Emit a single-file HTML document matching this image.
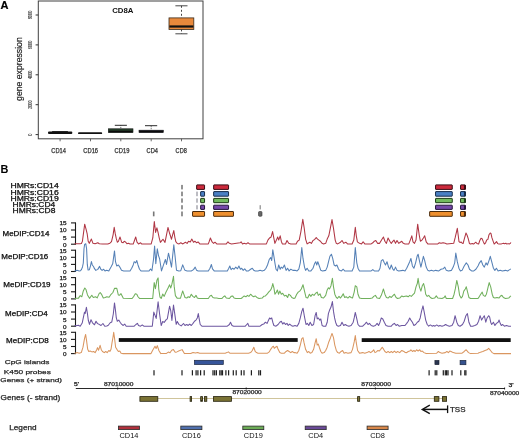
<!DOCTYPE html>
<html><head><meta charset="utf-8"><style>
html,body{margin:0;padding:0;background:#fff;}
body{width:520px;height:439px;overflow:hidden;}
svg{display:block;font-family:"Liberation Sans", sans-serif;will-change:transform;}
</style></head><body>
<svg width="520" height="439" viewBox="0 0 520 439">
<rect x="0" y="0" width="520" height="439" fill="#fff"/>
<text x="0.4" y="9.0" font-size="11" font-weight="bold" fill="#000" stroke="#000" stroke-width="0.2">A</text>
<rect x="38.3" y="1" width="164.7" height="137.8" fill="none" stroke="#404040" stroke-width="1"/>
<line x1="35.6" y1="134.6" x2="38.3" y2="134.6" stroke="#333" stroke-width="1.0" />
<text x="0" y="0" font-size="5.5" text-anchor="middle" fill="#333" stroke="#333" stroke-width="0.1" textLength="2.2" lengthAdjust="spacingAndGlyphs" transform="translate(32.0,134.60) rotate(-90)">0</text>
<line x1="35.6" y1="104.7" x2="38.3" y2="104.7" stroke="#333" stroke-width="1.0" />
<text x="0" y="0" font-size="5.5" text-anchor="middle" fill="#333" stroke="#333" stroke-width="0.1" textLength="8.6" lengthAdjust="spacingAndGlyphs" transform="translate(32.0,104.70) rotate(-90)">2000</text>
<line x1="35.6" y1="74.8" x2="38.3" y2="74.8" stroke="#333" stroke-width="1.0" />
<text x="0" y="0" font-size="5.5" text-anchor="middle" fill="#333" stroke="#333" stroke-width="0.1" textLength="8.6" lengthAdjust="spacingAndGlyphs" transform="translate(32.0,74.80) rotate(-90)">4000</text>
<line x1="35.6" y1="44.9" x2="38.3" y2="44.9" stroke="#333" stroke-width="1.0" />
<text x="0" y="0" font-size="5.5" text-anchor="middle" fill="#333" stroke="#333" stroke-width="0.1" textLength="8.6" lengthAdjust="spacingAndGlyphs" transform="translate(32.0,44.90) rotate(-90)">6000</text>
<line x1="35.6" y1="15.0" x2="38.3" y2="15.0" stroke="#333" stroke-width="1.0" />
<text x="0" y="0" font-size="5.5" text-anchor="middle" fill="#333" stroke="#333" stroke-width="0.1" textLength="8.6" lengthAdjust="spacingAndGlyphs" transform="translate(32.0,15.00) rotate(-90)">8000</text>
<text x="0" y="0" font-size="9.2" text-anchor="middle" fill="#222" stroke="#222" stroke-width="0.2" textLength="63.6" lengthAdjust="spacingAndGlyphs" transform="translate(22.3,69.1) rotate(-90)">gene expression</text>
<text x="122.8" y="13.0" font-size="7.8" text-anchor="middle" font-weight="bold" fill="#111" >CD8A</text>
<line x1="60.1" y1="138.8" x2="60.1" y2="141.3" stroke="#444" stroke-width="0.8" />
<text x="51.32" y="152.6" font-size="6.3" fill="#333" textLength="14.56" lengthAdjust="spacingAndGlyphs" stroke="#333" stroke-width="0.25">CD14</text>
<line x1="90.5" y1="138.8" x2="90.5" y2="141.3" stroke="#444" stroke-width="0.8" />
<text x="83.32" y="152.6" font-size="6.3" fill="#333" textLength="14.76" lengthAdjust="spacingAndGlyphs" stroke="#333" stroke-width="0.25">CD16</text>
<line x1="120.8" y1="138.8" x2="120.8" y2="141.3" stroke="#444" stroke-width="0.8" />
<text x="114.62" y="152.6" font-size="6.3" fill="#333" textLength="14.76" lengthAdjust="spacingAndGlyphs" stroke="#333" stroke-width="0.25">CD19</text>
<line x1="151.2" y1="138.8" x2="151.2" y2="141.3" stroke="#444" stroke-width="0.8" />
<text x="146.62" y="152.6" font-size="6.3" fill="#333" textLength="11.36" lengthAdjust="spacingAndGlyphs" stroke="#333" stroke-width="0.25">CD4</text>
<line x1="181.5" y1="138.8" x2="181.5" y2="141.3" stroke="#444" stroke-width="0.8" />
<text x="175.62" y="152.6" font-size="6.3" fill="#333" textLength="11.16" lengthAdjust="spacingAndGlyphs" stroke="#333" stroke-width="0.25">CD8</text>
<rect x="48.00" y="131.60" width="24.30" height="2.50" fill="#111" stroke="none" stroke-width="0" rx="1" />
<rect x="52.00" y="131.00" width="16.00" height="1.00" fill="#222" stroke="none" stroke-width="0" rx="0.5" />
<rect x="78.00" y="132.20" width="24.20" height="1.90" fill="#111" stroke="none" stroke-width="0" rx="1" />
<line x1="114.8" y1="125.3" x2="126.9" y2="125.3" stroke="#2a2a2a" stroke-width="1.0" />
<line x1="120.8" y1="125.1" x2="120.8" y2="128.5" stroke="#333" stroke-width="0.8" stroke-dasharray="1,1"/>
<rect x="108.30" y="128.80" width="24.70" height="3.80" fill="#24402a" stroke="#111" stroke-width="0.6" rx="0" />
<rect x="108.80" y="130.70" width="23.70" height="1.60" fill="#0b0b0b" stroke="none" stroke-width="0" rx="0" />
<line x1="145" y1="125.7" x2="157.2" y2="125.7" stroke="#2a2a2a" stroke-width="1.0" />
<line x1="151.2" y1="125.8" x2="151.2" y2="130.2" stroke="#333" stroke-width="0.8" stroke-dasharray="1,1"/>
<rect x="139.00" y="130.20" width="24.30" height="2.40" fill="#1a1a2a" stroke="#111" stroke-width="0.6" rx="0" />
<rect x="139.40" y="130.90" width="23.50" height="1.30" fill="#0b0b0b" stroke="none" stroke-width="0" rx="0" />
<line x1="175.4" y1="5.8" x2="187.5" y2="5.8" stroke="#333" stroke-width="0.9" />
<line x1="181.5" y1="5.8" x2="181.5" y2="17.9" stroke="#333" stroke-width="0.9" stroke-dasharray="2,2"/>
<line x1="175.4" y1="33.8" x2="187.5" y2="33.8" stroke="#333" stroke-width="0.9" />
<line x1="181.5" y1="29.4" x2="181.5" y2="33.8" stroke="#333" stroke-width="0.9" stroke-dasharray="2,2"/>
<rect x="169.00" y="17.90" width="24.80" height="11.50" fill="#e8893c" stroke="#3a2a1a" stroke-width="0.8" rx="0" />
<rect x="169.40" y="25.40" width="24.00" height="2.20" fill="#111" stroke="none" stroke-width="0" rx="0" />
<text x="0.6" y="173.1" font-size="11.7" font-weight="bold" fill="#000" textLength="7.9" lengthAdjust="spacingAndGlyphs">B</text>
<text x="10.52" y="188.2" font-size="6.4" fill="#111" textLength="48.17" lengthAdjust="spacingAndGlyphs" stroke="#111" stroke-width="0.25">HMRs:CD14</text>
<text x="10.52" y="194.5" font-size="6.4" fill="#111" textLength="48.17" lengthAdjust="spacingAndGlyphs" stroke="#111" stroke-width="0.25">HMRs:CD16</text>
<text x="10.52" y="200.9" font-size="6.4" fill="#111" textLength="48.17" lengthAdjust="spacingAndGlyphs" stroke="#111" stroke-width="0.25">HMRs:CD19</text>
<text x="12.62" y="206.9" font-size="6.4" fill="#111" textLength="42.57" lengthAdjust="spacingAndGlyphs" stroke="#111" stroke-width="0.25">HMRs:CD4</text>
<text x="12.62" y="212.7" font-size="6.4" fill="#111" textLength="42.77" lengthAdjust="spacingAndGlyphs" stroke="#111" stroke-width="0.25">HMRs:CD8</text>
<rect x="181.20" y="184.90" width="1.60" height="4.50" fill="#7a7a7a" stroke="none" stroke-width="0" rx="0" />
<rect x="181.20" y="191.60" width="1.60" height="4.60" fill="#7a7a7a" stroke="none" stroke-width="0" rx="0" />
<rect x="181.20" y="198.40" width="1.60" height="4.30" fill="#7a7a7a" stroke="none" stroke-width="0" rx="0" />
<rect x="181.20" y="205.20" width="1.60" height="4.20" fill="#7a7a7a" stroke="none" stroke-width="0" rx="0" />
<rect x="181.20" y="211.50" width="1.60" height="4.80" fill="#7a7a7a" stroke="none" stroke-width="0" rx="0" />
<rect x="196.50" y="191.60" width="1.00" height="4.60" fill="#7a7a86" stroke="none" stroke-width="0" rx="0" />
<rect x="196.50" y="198.40" width="1.00" height="4.30" fill="#7a7a86" stroke="none" stroke-width="0" rx="0" />
<rect x="196.50" y="205.20" width="1.00" height="4.20" fill="#7a7a86" stroke="none" stroke-width="0" rx="0" />
<rect x="152.90" y="211.50" width="1.60" height="4.80" fill="#777" stroke="none" stroke-width="0" rx="0" />
<rect x="259.60" y="205.20" width="1.20" height="4.20" fill="#8a8a8a" stroke="none" stroke-width="0" rx="0" />
<rect x="258.50" y="211.50" width="3.50" height="4.80" fill="#666" stroke="#333" stroke-width="0.6" rx="1" />
<rect x="196.65" y="184.90" width="7.90" height="4.50" fill="#cc2a3c" stroke="#3a0c14" stroke-width="1.0" rx="0.35" />
<rect x="213.65" y="184.90" width="14.90" height="4.50" fill="#cc2a3c" stroke="#3a0c14" stroke-width="1.0" rx="0.35" />
<rect x="435.55" y="184.90" width="16.70" height="4.50" fill="#cc2a3c" stroke="#3a0c14" stroke-width="1.0" rx="0.35" />
<rect x="460.55" y="184.90" width="4.80" height="4.50" fill="#cc2a3c" stroke="#3a0c14" stroke-width="1.0" rx="0.35" />
<rect x="463.90" y="184.90" width="2.00" height="4.50" fill="#3a0c14" stroke="none" stroke-width="0" rx="0.5" />
<rect x="200.65" y="191.60" width="3.90" height="4.60" fill="#4a80c4" stroke="#172c4a" stroke-width="1.0" rx="0.35" />
<rect x="213.65" y="191.60" width="14.90" height="4.60" fill="#4a80c4" stroke="#172c4a" stroke-width="1.0" rx="0.35" />
<rect x="435.55" y="191.60" width="16.70" height="4.60" fill="#4a80c4" stroke="#172c4a" stroke-width="1.0" rx="0.35" />
<rect x="460.55" y="191.60" width="4.80" height="4.60" fill="#4a80c4" stroke="#172c4a" stroke-width="1.0" rx="0.35" />
<rect x="463.90" y="191.60" width="2.00" height="4.60" fill="#172c4a" stroke="none" stroke-width="0" rx="0.5" />
<rect x="200.65" y="198.40" width="3.90" height="4.30" fill="#72ba5e" stroke="#1c3c16" stroke-width="1.0" rx="0.35" />
<rect x="213.65" y="198.40" width="14.90" height="4.30" fill="#72ba5e" stroke="#1c3c16" stroke-width="1.0" rx="0.35" />
<rect x="435.55" y="198.40" width="16.70" height="4.30" fill="#72ba5e" stroke="#1c3c16" stroke-width="1.0" rx="0.35" />
<rect x="460.55" y="198.40" width="4.80" height="4.30" fill="#72ba5e" stroke="#1c3c16" stroke-width="1.0" rx="0.35" />
<rect x="463.90" y="198.40" width="2.00" height="4.30" fill="#1c3c16" stroke="none" stroke-width="0" rx="0.5" />
<rect x="200.65" y="205.20" width="3.90" height="4.20" fill="#7648aa" stroke="#24143c" stroke-width="1.0" rx="0.35" />
<rect x="213.65" y="205.20" width="14.90" height="4.20" fill="#7648aa" stroke="#24143c" stroke-width="1.0" rx="0.35" />
<rect x="435.55" y="205.20" width="16.70" height="4.20" fill="#7648aa" stroke="#24143c" stroke-width="1.0" rx="0.35" />
<rect x="460.55" y="205.20" width="4.80" height="4.20" fill="#7648aa" stroke="#24143c" stroke-width="1.0" rx="0.35" />
<rect x="463.90" y="205.20" width="2.00" height="4.20" fill="#24143c" stroke="none" stroke-width="0" rx="0.5" />
<rect x="192.55" y="211.50" width="12.00" height="4.80" fill="#ee8f2e" stroke="#4a2a0c" stroke-width="1.0" rx="0.35" />
<rect x="213.65" y="211.50" width="19.80" height="4.80" fill="#ee8f2e" stroke="#4a2a0c" stroke-width="1.0" rx="0.35" />
<rect x="429.65" y="211.50" width="22.60" height="4.80" fill="#ee8f2e" stroke="#4a2a0c" stroke-width="1.0" rx="0.35" />
<rect x="460.55" y="211.50" width="4.80" height="4.80" fill="#ee8f2e" stroke="#4a2a0c" stroke-width="1.0" rx="0.35" />
<rect x="463.90" y="211.50" width="2.00" height="4.80" fill="#4a2a0c" stroke="none" stroke-width="0" rx="0.5" />
<text x="2.52" y="236.1" font-size="6.4" fill="#111" textLength="46.87" lengthAdjust="spacingAndGlyphs" stroke="#111" stroke-width="0.25">MeDIP:CD14</text>
<text x="1.32" y="258.6" font-size="6.4" fill="#111" textLength="46.97" lengthAdjust="spacingAndGlyphs" stroke="#111" stroke-width="0.25">MeDIP:CD16</text>
<text x="3.22" y="286.7" font-size="6.4" fill="#111" textLength="47.37" lengthAdjust="spacingAndGlyphs" stroke="#111" stroke-width="0.25">MeDIP:CD19</text>
<text x="5.12" y="316.3" font-size="6.4" fill="#111" textLength="42.67" lengthAdjust="spacingAndGlyphs" stroke="#111" stroke-width="0.25">MeDIP:CD4</text>
<text x="6.02" y="343.3" font-size="6.4" fill="#111" textLength="42.77" lengthAdjust="spacingAndGlyphs" stroke="#111" stroke-width="0.25">MeDIP:CD8</text>
<line x1="75.5" y1="222.39999999999998" x2="75.5" y2="244.7" stroke="#1a1a1a" stroke-width="1.1" />
<line x1="71.0" y1="244.2" x2="75.5" y2="244.2" stroke="#1a1a1a" stroke-width="1.1" />
<text x="66.62" y="246.6" font-size="5.3" text-anchor="end" fill="#222" textLength="3.54" lengthAdjust="spacingAndGlyphs" stroke="#222" stroke-width="0.25">0</text>
<line x1="71.0" y1="237.1" x2="75.5" y2="237.1" stroke="#1a1a1a" stroke-width="1.1" />
<text x="66.62" y="239.5" font-size="5.3" text-anchor="end" fill="#222" textLength="3.54" lengthAdjust="spacingAndGlyphs" stroke="#222" stroke-width="0.25">5</text>
<line x1="71.0" y1="230.0" x2="75.5" y2="230.0" stroke="#1a1a1a" stroke-width="1.1" />
<text x="66.62" y="232.4" font-size="5.3" text-anchor="end" fill="#222" textLength="7.14" lengthAdjust="spacingAndGlyphs" stroke="#222" stroke-width="0.25">10</text>
<line x1="71.0" y1="222.9" x2="75.5" y2="222.9" stroke="#1a1a1a" stroke-width="1.1" />
<text x="66.62" y="225.3" font-size="5.3" text-anchor="end" fill="#222" textLength="7.14" lengthAdjust="spacingAndGlyphs" stroke="#222" stroke-width="0.25">15</text>
<polyline points="75.5,244.20 75.0,243.77 80.0,243.77 81.4,243.49 82.4,241.36 84.7,224.18 86.1,229.43 87.2,233.98 88.2,241.36 89.3,243.35 91.4,239.09 93.0,243.35 95.1,243.77 97.8,242.78 99.3,243.77 102.5,244.06 107.8,244.06 109.9,243.21 111.5,241.64 113.1,234.83 114.2,227.30 115.2,233.41 116.3,238.66 117.3,242.21 118.4,241.36 120.0,236.96 121.6,242.21 123.1,242.78 124.2,241.22 125.8,242.21 126.9,243.77 128.4,243.21 130.0,244.06 133.2,244.06 134.2,241.22 135.7,236.96 137.0,242.21 138.5,243.92 140.6,242.78 141.6,243.92 151.2,243.92 152.8,237.95 154.3,221.48 155.6,232.41 156.9,227.87 158.0,232.13 159.2,237.81 160.4,242.35 161.8,240.65 163.0,239.23 165.0,242.35 166.5,234.97 168.0,227.44 169.6,233.27 171.5,239.23 172.6,234.97 173.8,230.57 174.8,237.10 175.8,241.64 177.3,243.49 179.1,243.92 180.8,242.78 182.9,243.92 185.4,242.21 187.1,243.35 188.6,241.22 190.3,241.93 191.8,239.09 193.5,242.21 194.9,241.22 196.6,242.78 198.1,241.93 199.8,243.92 208.3,243.92 209.3,241.22 210.4,237.95 212.1,241.93 213.6,243.35 215.0,242.21 216.7,243.92 226.3,243.92 228.0,241.79 229.4,243.35 231.5,243.92 240.0,242.78 241.1,241.79 242.5,243.92 244.2,243.35 246.3,243.92 248.0,242.78 249.5,243.92 266.4,243.92 267.9,240.08 269.6,237.95 271.1,236.96 272.6,231.56 273.8,237.95 274.9,243.35 276.4,240.08 277.7,236.96 278.7,240.08 280.2,235.82 281.3,241.22 282.3,243.92 285.5,243.92 287.0,240.51 288.7,243.35 290.8,243.92 296.1,243.92 297.5,241.22 299.2,240.08 300.9,231.56 302.8,219.35 304.1,227.30 305.6,239.09 307.1,243.92 309.8,242.21 311.5,243.35 313.0,240.51 314.5,239.66 316.2,237.53 317.6,239.09 318.9,240.08 320.4,241.22 322.1,243.35 323.6,243.92 325.7,243.35 327.2,239.09 328.8,235.82 330.5,227.30 332.0,219.63 333.5,228.44 335.2,240.08 336.3,243.35 337.7,243.92 340.5,242.21 342.0,240.51 343.7,243.35 345.8,242.21 347.5,243.92 350.0,243.92 352.1,243.92 353.8,240.08 355.3,227.30 356.3,235.82 357.4,241.93 359.5,243.35 361.6,243.92 363.1,241.79 364.8,243.92 371.2,243.92 372.8,242.78 374.3,241.22 375.8,240.51 377.5,243.35 379.6,243.35 381.7,239.66 383.4,236.96 384.9,241.22 386.4,243.35 388.1,237.95 389.8,241.22 391.3,243.35 392.3,241.93 394.0,240.08 395.5,243.35 397.0,240.51 398.7,243.35 400.3,242.21 401.8,241.22 403.3,243.35 405.0,243.92 408.8,243.92 410.3,240.08 411.8,235.82 413.0,241.93 414.5,243.35 416.0,240.08 417.7,224.18 419.2,234.83 420.4,241.22 421.9,240.08 423.4,237.95 424.7,235.82 426.2,241.93 427.8,243.92 437.8,243.92 439.3,242.78 441.0,243.35 443.1,242.78 445.2,243.35 446.9,243.92 453.7,243.35 455.1,237.95 456.5,231.85 457.3,228.30 458.2,235.25 459.0,241.64 460.2,242.50 461.3,242.07 462.2,243.21 463.1,243.49 464.2,239.37 466.0,232.98 467.1,235.25 468.3,238.80 469.4,243.49 470.6,244.06 472.3,243.49 473.5,244.06 474.6,243.21 475.8,242.21 476.9,243.49 478.6,244.06 479.8,240.51 481.0,238.24 482.1,238.80 483.3,241.64 484.4,244.06 485.6,242.78 486.7,239.94 487.9,239.37 489.0,234.69 490.2,232.98 491.0,233.55 491.9,237.67 493.1,241.08 494.2,244.06 495.4,242.78 496.5,241.64 497.7,243.63 498.8,244.06 501.1,244.06 502.3,243.63 503.4,243.21 504.6,243.63 505.8,243.21 506.9,244.06 508.1,243.63 509.2,244.06 510.4,243.21 511.0,242.50" fill="none" stroke="#b03644" stroke-width="1.05" stroke-linejoin="round"/>
<line x1="75.5" y1="249.7" x2="75.5" y2="272.0" stroke="#1a1a1a" stroke-width="1.1" />
<line x1="71.0" y1="271.5" x2="75.5" y2="271.5" stroke="#1a1a1a" stroke-width="1.1" />
<text x="66.62" y="273.9" font-size="5.3" text-anchor="end" fill="#222" textLength="3.54" lengthAdjust="spacingAndGlyphs" stroke="#222" stroke-width="0.25">0</text>
<line x1="71.0" y1="264.4" x2="75.5" y2="264.4" stroke="#1a1a1a" stroke-width="1.1" />
<text x="66.62" y="266.8" font-size="5.3" text-anchor="end" fill="#222" textLength="3.54" lengthAdjust="spacingAndGlyphs" stroke="#222" stroke-width="0.25">5</text>
<line x1="71.0" y1="257.3" x2="75.5" y2="257.3" stroke="#1a1a1a" stroke-width="1.1" />
<text x="66.62" y="259.7" font-size="5.3" text-anchor="end" fill="#222" textLength="7.14" lengthAdjust="spacingAndGlyphs" stroke="#222" stroke-width="0.25">10</text>
<line x1="71.0" y1="250.2" x2="75.5" y2="250.2" stroke="#1a1a1a" stroke-width="1.1" />
<text x="66.62" y="252.6" font-size="5.3" text-anchor="end" fill="#222" textLength="7.14" lengthAdjust="spacingAndGlyphs" stroke="#222" stroke-width="0.25">15</text>
<polyline points="75.5,271.50 75.0,270.93 77.1,270.36 79.2,270.93 80.5,270.79 81.5,269.37 82.5,266.96 83.3,262.98 84.0,248.78 84.6,244.52 85.8,243.81 86.6,248.78 87.3,264.40 88.1,270.08 89.4,269.65 90.5,265.82 91.4,261.56 92.3,264.97 93.5,266.53 94.5,268.66 95.8,270.36 97.8,269.37 99.6,266.39 100.8,269.23 102.1,270.36 103.6,269.23 105.0,270.93 106.7,270.36 108.8,270.93 111.0,267.10 112.7,263.83 114.5,250.91 115.5,261.70 116.7,265.96 118.4,264.97 119.8,267.10 121.5,270.36 123.7,270.93 130.0,270.93 131.7,268.23 133.2,264.97 134.2,261.70 135.7,262.84 136.8,260.57 138.0,264.97 139.5,269.23 141.0,270.93 149.0,270.93 150.4,268.94 151.9,270.79 153.5,259.43 154.6,245.94 155.8,263.69 157.3,248.78 158.5,255.60 159.6,258.72 161.5,270.93 163.5,264.83 165.4,259.43 166.5,264.40 168.5,253.18 169.6,257.87 171.5,267.10 173.8,244.80 175.0,255.60 176.5,270.22 178.8,270.93 180.8,270.65 182.7,264.83 184.2,268.66 185.0,270.36 187.1,270.93 191.3,270.93 193.5,269.65 195.2,267.10 196.6,270.36 198.1,270.93 208.3,270.93 210.0,268.23 211.4,264.54 212.5,268.80 214.2,270.93 227.3,270.93 228.8,268.23 229.8,265.96 231.1,269.65 232.6,268.23 234.1,269.23 235.8,267.10 237.5,268.80 238.9,265.96 240.4,269.23 241.7,268.23 243.2,270.36 244.7,268.80 246.3,270.93 248.5,270.93 250.6,269.23 252.3,268.23 253.8,270.36 255.2,270.93 258.0,270.93 260.1,270.36 262.2,270.93 264.3,270.36 266.0,268.23 267.5,264.97 269.2,259.57 270.7,257.44 271.7,260.57 272.8,249.77 273.9,256.31 274.9,262.84 276.0,269.23 277.4,270.93 278.7,264.97 280.2,269.23 281.3,267.10 282.7,268.23 284.4,264.97 286.1,270.36 287.6,268.23 289.1,270.93 290.8,269.23 292.9,270.36 295.0,270.36 297.1,270.93 298.8,269.23 300.3,262.84 301.8,247.64 303.0,258.44 304.5,267.10 305.6,270.36 307.1,268.23 308.8,270.93 310.9,270.93 313.0,268.23 314.5,263.83 315.7,261.70 316.8,264.97 317.8,261.70 319.3,265.96 320.8,270.36 322.5,270.93 325.7,270.36 327.2,267.10 328.8,260.57 329.9,256.31 331.4,254.18 332.7,258.44 334.1,264.97 335.6,265.96 336.9,264.97 338.4,268.80 339.4,270.36 341.5,270.93 343.2,269.23 344.7,270.93 352.1,270.93 353.8,267.10 355.3,247.64 356.8,262.84 358.0,268.23 359.5,270.93 371.2,270.93 372.8,269.65 374.3,270.93 378.6,270.93 380.0,268.23 381.3,260.57 382.8,259.57 384.3,262.84 385.5,264.97 387.0,261.70 388.5,267.10 389.8,269.23 391.3,264.97 392.7,268.80 394.0,270.36 395.5,267.10 397.0,270.36 398.7,270.93 402.9,270.36 405.0,270.93 406.7,268.23 408.2,264.97 409.7,261.70 410.9,258.44 412.4,265.96 413.9,268.23 415.6,262.84 417.1,256.31 418.1,254.18 419.4,260.57 420.9,267.10 421.9,262.84 423.4,256.31 424.7,260.57 426.2,267.10 427.8,270.36 429.3,270.93 431.4,270.36 433.6,270.93 435.7,270.36 438.8,270.93 441.0,269.23 443.1,268.80 444.8,267.10 446.3,270.36 448.4,270.93 451.5,270.36 453.2,267.10 454.7,262.84 455.8,253.04 457.3,261.70 458.9,268.23 460.4,270.93 462.1,270.36 464.2,265.96 466.3,262.84 468.0,264.97 469.5,269.23 471.6,270.93 473.8,270.93 475.9,269.23 478.0,265.96 479.5,262.84 481.2,260.57 482.8,264.97 484.3,267.10 486.0,262.84 487.4,264.97 489.0,260.57 490.3,256.31 491.7,261.70 493.4,268.23 494.9,270.36 496.4,268.23 498.1,270.93 500.2,270.36 502.3,270.93 505.5,270.36 507.6,270.93 509.7,269.65 510.8,268.80" fill="none" stroke="#5580b6" stroke-width="1.05" stroke-linejoin="round"/>
<line x1="75.5" y1="277.09999999999997" x2="75.5" y2="299.4" stroke="#1a1a1a" stroke-width="1.1" />
<line x1="71.0" y1="298.9" x2="75.5" y2="298.9" stroke="#1a1a1a" stroke-width="1.1" />
<text x="66.62" y="301.3" font-size="5.3" text-anchor="end" fill="#222" textLength="3.54" lengthAdjust="spacingAndGlyphs" stroke="#222" stroke-width="0.25">0</text>
<line x1="71.0" y1="291.8" x2="75.5" y2="291.8" stroke="#1a1a1a" stroke-width="1.1" />
<text x="66.62" y="294.2" font-size="5.3" text-anchor="end" fill="#222" textLength="3.54" lengthAdjust="spacingAndGlyphs" stroke="#222" stroke-width="0.25">5</text>
<line x1="71.0" y1="284.7" x2="75.5" y2="284.7" stroke="#1a1a1a" stroke-width="1.1" />
<text x="66.62" y="287.1" font-size="5.3" text-anchor="end" fill="#222" textLength="7.14" lengthAdjust="spacingAndGlyphs" stroke="#222" stroke-width="0.25">10</text>
<line x1="71.0" y1="277.6" x2="75.5" y2="277.6" stroke="#1a1a1a" stroke-width="1.1" />
<text x="66.62" y="280.0" font-size="5.3" text-anchor="end" fill="#222" textLength="7.14" lengthAdjust="spacingAndGlyphs" stroke="#222" stroke-width="0.25">15</text>
<polyline points="75.5,298.90 75.0,298.47 76.0,298.33 78.3,298.33 80.2,295.63 81.8,296.77 83.3,290.95 84.8,287.97 86.0,289.53 87.5,294.92 89.5,298.33 91.8,295.21 93.3,297.48 95.6,296.77 97.2,297.91 99.1,293.65 100.2,292.51 101.4,294.07 103.3,297.91 105.2,297.48 106.8,296.77 109.1,297.20 110.6,294.92 112.9,292.51 114.5,288.39 116.8,288.39 118.3,294.92 119.6,295.21 121.0,293.65 123.3,298.33 132.1,298.47 133.8,296.34 135.3,293.79 136.8,294.21 138.0,296.77 139.5,298.47 152.7,298.47 154.2,282.57 155.4,288.68 156.9,280.30 158.1,277.88 158.8,289.53 160.0,297.20 161.2,298.47 162.7,294.07 164.2,296.34 165.8,292.51 168.1,287.97 169.6,284.84 170.8,287.97 171.9,284.13 173.5,276.32 174.2,286.40 175.4,295.63 177.3,298.33 180.4,298.33 182.7,290.95 183.8,294.07 185.0,297.48 186.7,298.05 188.2,296.77 189.7,297.48 191.3,294.21 192.8,296.34 194.5,297.48 196.0,295.35 197.3,298.05 198.8,298.47 208.3,298.47 210.0,295.92 211.4,295.35 212.9,297.48 214.6,298.05 216.7,298.05 218.8,298.47 222.0,298.47 223.5,296.77 224.8,295.92 226.3,298.05 229.4,298.47 231.1,296.34 232.6,295.92 234.1,298.05 235.8,298.47 241.1,298.47 242.5,297.48 244.2,295.92 245.9,296.77 247.4,295.35 248.9,296.34 250.6,294.21 252.3,295.92 253.8,296.77 255.2,295.92 256.9,297.48 259.0,298.47 262.2,298.05 263.7,296.34 265.4,295.92 267.1,294.21 268.6,292.08 269.6,291.09 270.7,289.95 271.7,287.82 272.8,283.56 273.9,287.82 274.9,294.21 276.4,292.08 277.4,289.95 278.5,294.21 279.8,291.09 281.3,294.21 282.7,293.22 284.4,295.92 286.1,295.35 287.6,297.48 288.7,294.21 290.4,295.35 291.8,297.48 293.9,298.47 295.0,298.05 296.7,294.21 298.2,292.08 299.7,291.09 301.3,288.96 303.0,284.70 304.5,291.09 306.0,297.48 307.7,298.05 309.4,294.21 310.9,296.34 312.3,294.21 314.0,295.35 315.7,293.22 317.2,292.08 318.3,295.35 320.0,293.79 321.4,297.48 323.6,298.05 325.7,295.35 327.2,289.95 328.4,287.82 329.5,288.96 331.0,285.69 332.4,278.31 333.5,286.83 334.8,294.21 336.3,297.48 337.3,298.47 339.0,296.34 340.5,298.05 342.0,295.92 343.2,293.79 344.7,297.48 346.2,296.77 347.9,298.05 349.6,296.34 351.1,297.48 352.5,298.05 354.2,292.08 355.3,285.69 356.8,286.83 358.0,294.21 359.5,298.05 361.6,298.47 370.1,298.47 372.2,298.05 373.7,296.34 375.4,295.35 377.1,298.05 379.6,298.47 381.3,295.35 382.4,292.08 383.4,288.96 384.9,294.21 386.4,297.48 388.1,298.05 389.8,296.34 391.3,297.48 392.7,295.92 394.4,294.21 396.1,297.48 397.6,298.47 399.7,298.05 401.8,295.92 403.3,296.77 405.0,296.34 406.7,295.92 408.2,296.77 409.7,295.35 411.3,296.34 413.0,294.64 414.5,293.22 416.0,286.83 417.3,283.56 418.1,278.31 419.4,286.83 420.9,291.09 422.3,285.69 423.6,283.56 424.7,287.82 425.7,294.21 427.2,296.34 428.7,295.35 430.4,297.48 432.1,298.47 434.6,298.05 436.3,295.92 437.8,298.05 442.0,298.47 444.1,297.48 445.2,295.92 446.3,298.47 452.6,298.47 454.1,294.21 455.3,288.96 456.8,280.44 458.3,286.83 459.6,295.35 461.1,298.05 462.5,296.34 463.8,291.09 465.3,288.96 466.3,286.83 467.6,292.08 468.9,297.48 470.6,298.47 478.0,298.47 479.5,296.34 480.7,294.21 482.2,292.08 483.3,295.35 485.0,296.34 486.4,294.21 487.9,287.82 489.2,282.57 490.7,286.83 492.2,294.21 493.4,297.48 494.9,298.05 497.0,297.48 499.1,298.05 500.6,295.92 501.9,295.35 503.4,297.48 505.5,298.47 508.7,298.05 510.3,296.34 511.0,295.92" fill="none" stroke="#70b05c" stroke-width="1.05" stroke-linejoin="round"/>
<line x1="75.5" y1="304.4" x2="75.5" y2="326.7" stroke="#1a1a1a" stroke-width="1.1" />
<line x1="71.0" y1="326.2" x2="75.5" y2="326.2" stroke="#1a1a1a" stroke-width="1.1" />
<text x="66.62" y="328.6" font-size="5.3" text-anchor="end" fill="#222" textLength="3.54" lengthAdjust="spacingAndGlyphs" stroke="#222" stroke-width="0.25">0</text>
<line x1="71.0" y1="319.1" x2="75.5" y2="319.1" stroke="#1a1a1a" stroke-width="1.1" />
<text x="66.62" y="321.5" font-size="5.3" text-anchor="end" fill="#222" textLength="3.54" lengthAdjust="spacingAndGlyphs" stroke="#222" stroke-width="0.25">5</text>
<line x1="71.0" y1="312.0" x2="75.5" y2="312.0" stroke="#1a1a1a" stroke-width="1.1" />
<text x="66.62" y="314.4" font-size="5.3" text-anchor="end" fill="#222" textLength="7.14" lengthAdjust="spacingAndGlyphs" stroke="#222" stroke-width="0.25">10</text>
<line x1="71.0" y1="304.9" x2="75.5" y2="304.9" stroke="#1a1a1a" stroke-width="1.1" />
<text x="66.62" y="307.3" font-size="5.3" text-anchor="end" fill="#222" textLength="7.14" lengthAdjust="spacingAndGlyphs" stroke="#222" stroke-width="0.25">15</text>
<polyline points="75.5,326.20 75.0,325.49 76.0,325.77 78.3,325.21 80.2,326.20 82.2,323.08 84.5,312.14 85.2,313.42 86.4,307.31 87.5,313.99 88.3,320.24 89.5,324.35 91.0,319.67 92.5,322.79 94.5,324.78 96.0,321.23 97.5,323.64 99.1,324.35 101.0,325.49 102.9,323.50 104.8,326.20 106.8,325.92 108.3,325.21 110.2,322.79 111.8,321.94 113.3,313.99 114.5,302.91 115.5,310.58 116.3,317.96 117.3,321.23 118.8,320.09 120.1,322.22 121.5,324.07 123.2,325.49 124.7,324.07 126.2,326.20 134.2,326.20 135.9,324.50 137.4,323.36 138.5,325.49 140.6,326.20 142.3,324.92 143.8,326.20 152.3,326.20 153.8,312.14 156.2,318.39 158.1,301.78 159.6,313.99 161.2,325.49 162.7,321.51 164.2,322.37 166.2,319.67 167.3,318.82 169.6,306.18 170.8,310.86 171.9,320.38 173.5,305.04 175.0,315.69 176.2,324.35 177.3,321.51 178.8,324.35 181.2,325.92 183.5,323.50 185.0,325.49 186.7,324.50 188.2,325.49 189.7,324.07 191.3,325.49 193.0,323.36 194.5,321.23 196.0,320.09 197.3,317.96 198.3,313.56 199.2,318.96 200.2,324.50 201.9,326.20 227.3,326.20 229.4,324.50 230.5,322.22 232.0,325.49 233.7,326.20 245.3,326.20 246.8,324.50 247.8,323.36 248.9,326.20 260.1,326.20 262.2,324.50 263.7,324.07 265.4,322.22 267.1,323.36 268.6,320.09 269.6,317.96 270.7,318.96 271.7,317.96 272.8,322.22 273.9,325.49 276.0,326.20 278.1,324.50 279.8,322.22 281.3,321.23 282.7,324.07 284.0,322.65 285.5,324.50 287.0,323.36 288.2,325.49 289.7,324.07 291.2,325.49 292.9,326.20 295.0,325.49 297.1,326.20 298.8,323.36 300.3,317.96 301.8,311.43 303.0,308.17 304.5,316.97 306.0,324.50 307.3,323.36 308.8,325.49 310.2,322.22 311.9,325.49 313.6,324.50 315.1,315.69 316.2,312.43 317.2,318.96 318.3,317.96 319.8,320.09 320.8,318.96 322.1,325.49 323.6,326.20 325.7,326.20 327.2,322.22 328.4,313.56 329.5,310.30 331.0,307.03 332.4,301.63 333.5,311.43 334.6,317.96 335.6,322.22 336.9,325.49 338.4,326.20 340.5,325.49 342.0,322.22 343.7,325.49 345.3,324.50 346.8,325.49 348.9,326.20 351.1,325.49 353.2,322.22 354.2,317.96 355.3,312.43 356.8,318.96 358.0,324.50 359.5,326.20 362.7,326.20 364.8,324.07 366.5,322.22 368.0,324.50 369.5,323.36 371.2,325.49 373.3,326.20 375.4,325.49 377.1,323.36 378.6,325.49 380.0,322.22 381.3,317.96 382.8,318.96 384.3,322.22 386.0,325.49 388.1,326.20 391.3,326.20 392.7,324.50 394.4,323.36 396.1,325.49 397.6,324.50 399.1,326.20 401.8,325.49 405.0,325.49 406.7,323.36 408.2,321.23 409.7,317.96 410.9,320.09 412.4,322.22 413.9,325.49 415.6,324.50 417.3,322.22 418.8,321.23 420.2,317.96 421.5,311.43 423.0,305.89 424.5,313.56 425.7,320.09 427.2,324.50 428.7,326.20 430.4,324.92 432.1,326.20 433.6,325.49 435.0,326.20 436.7,324.92 438.4,326.20 439.9,325.49 442.0,326.20 444.1,325.49 445.6,324.50 447.3,325.49 449.4,326.20 452.0,325.49 453.7,322.22 455.1,315.69 456.8,322.22 458.3,325.49 460.0,326.20 462.5,324.50 464.2,321.23 465.9,315.69 467.4,313.56 468.9,322.22 470.6,326.20 472.7,326.20 474.8,325.49 476.9,324.50 478.6,321.23 480.1,315.69 481.6,320.09 482.8,317.96 484.3,315.69 485.8,322.22 487.1,317.96 488.6,315.69 489.6,316.97 490.7,322.22 491.7,324.50 493.4,322.22 494.9,325.49 496.4,323.36 498.1,322.22 499.1,320.09 500.2,323.36 501.3,325.49 502.7,324.50 504.4,326.20 506.5,325.49 508.7,326.20 511.0,326.20" fill="none" stroke="#6c56a0" stroke-width="1.05" stroke-linejoin="round"/>
<line x1="75.5" y1="331.8" x2="75.5" y2="354.1" stroke="#1a1a1a" stroke-width="1.1" />
<line x1="71.0" y1="353.6" x2="75.5" y2="353.6" stroke="#1a1a1a" stroke-width="1.1" />
<text x="66.62" y="356.0" font-size="5.3" text-anchor="end" fill="#222" textLength="3.54" lengthAdjust="spacingAndGlyphs" stroke="#222" stroke-width="0.25">0</text>
<line x1="71.0" y1="346.5" x2="75.5" y2="346.5" stroke="#1a1a1a" stroke-width="1.1" />
<text x="66.62" y="348.9" font-size="5.3" text-anchor="end" fill="#222" textLength="3.54" lengthAdjust="spacingAndGlyphs" stroke="#222" stroke-width="0.25">5</text>
<line x1="71.0" y1="339.4" x2="75.5" y2="339.4" stroke="#1a1a1a" stroke-width="1.1" />
<text x="66.62" y="341.8" font-size="5.3" text-anchor="end" fill="#222" textLength="7.14" lengthAdjust="spacingAndGlyphs" stroke="#222" stroke-width="0.25">10</text>
<line x1="71.0" y1="332.3" x2="75.5" y2="332.3" stroke="#1a1a1a" stroke-width="1.1" />
<text x="66.62" y="334.7" font-size="5.3" text-anchor="end" fill="#222" textLength="7.14" lengthAdjust="spacingAndGlyphs" stroke="#222" stroke-width="0.25">15</text>
<polyline points="75.5,353.60 75.0,353.17 77.1,352.61 79.2,353.17 81.3,352.61 83.0,347.21 84.5,338.69 85.6,334.43 86.6,340.82 87.7,349.34 88.8,351.47 90.2,351.04 91.9,351.90 93.6,351.47 95.1,352.61 96.6,350.05 97.5,347.64 98.6,350.19 100.1,345.36 101.4,350.05 102.5,351.47 104.2,352.61 105.7,351.47 107.2,352.61 108.8,350.48 109.9,351.47 111.0,349.34 112.0,342.95 113.1,336.56 113.7,332.30 114.6,338.69 115.6,347.21 116.9,349.34 118.4,351.47 119.8,351.04 121.1,353.17 122.6,353.60 151.0,353.60 152.7,350.19 155.0,346.22 156.1,348.49 157.3,345.65 159.0,350.76 160.8,353.60 166.5,353.46 168.3,352.04 170.0,352.75 171.7,350.19 173.4,349.62 175.2,352.32 176.9,351.90 179.2,350.76 182.1,349.62 184.4,353.60 190.7,353.46 193.0,352.46 195.4,353.03 197.7,352.46 199.5,353.32 225.2,353.17 226.9,352.61 228.4,351.90 229.8,353.17 248.5,353.17 250.6,352.61 252.3,350.48 253.8,347.21 255.2,351.47 256.5,352.61 258.0,353.17 267.5,353.17 269.2,351.90 270.7,349.34 272.2,347.21 273.4,346.22 274.3,348.35 275.5,347.21 277.0,346.22 278.1,349.34 279.8,352.61 281.3,353.17 284.4,353.17 286.1,351.47 287.6,350.48 289.1,351.47 290.8,352.61 292.3,351.47 293.9,352.61 295.0,352.61 297.1,353.17 298.8,350.48 300.3,345.08 301.8,338.69 303.0,337.70 304.1,342.95 305.6,349.34 307.3,352.61 308.8,351.47 310.2,353.17 311.9,352.61 313.6,349.34 315.1,342.95 316.2,338.69 317.2,345.08 318.3,344.09 319.3,347.21 320.8,351.47 322.1,353.17 324.2,352.61 325.7,350.48 327.2,347.21 328.8,341.96 330.5,337.70 332.0,333.44 333.5,337.70 334.8,345.08 336.3,350.48 337.7,352.61 339.4,353.17 341.1,351.47 342.6,350.48 344.1,353.17 345.8,352.61 347.9,353.17 351.1,352.61 352.5,349.34 354.2,341.96 355.3,335.57 356.3,342.95 357.6,350.48 359.5,353.17 362.7,352.61 364.8,353.17 366.9,352.61 369.0,351.47 370.7,352.61 372.8,351.04 373.7,349.77 375.0,352.61 376.4,351.90 377.9,350.48 379.2,351.04 380.7,349.34 382.2,347.21 383.4,348.91 384.9,351.47 386.4,352.61 388.1,351.47 389.8,352.61 391.3,351.47 392.7,352.61 394.4,351.04 396.1,352.61 397.6,351.47 399.7,352.61 401.8,350.48 403.9,351.47 405.0,352.46 406.7,352.61 408.2,351.47 409.7,351.04 410.9,349.77 412.4,351.47 413.9,350.48 415.2,351.47 416.6,349.77 418.1,351.04 419.8,349.77 420.9,351.47 422.3,351.04 424.0,352.61 426.2,353.60 436.7,353.17 438.4,351.47 439.9,352.61 442.0,353.17 445.2,352.61 446.9,351.47 448.4,352.61 449.8,351.04 451.1,351.47 453.2,352.61 455.8,353.17 462.1,353.17 464.2,351.47 465.9,349.77 466.8,350.48 468.5,352.61 470.6,353.60 478.0,353.17 479.5,352.61 481.2,351.90 482.8,351.47 485.0,350.48 487.1,349.77 488.6,348.35 489.6,349.34 491.3,351.47 492.2,352.61 493.9,353.60 511.0,353.60" fill="none" stroke="#da9660" stroke-width="1.05" stroke-linejoin="round"/>
<rect x="118.80" y="338.10" width="178.90" height="3.80" fill="#111" stroke="none" stroke-width="0" rx="0" />
<rect x="361.70" y="338.20" width="149.00" height="3.80" fill="#111" stroke="none" stroke-width="0" rx="0" />
<text x="4.73" y="363.8" font-size="6.2" fill="#2a2a2a" textLength="44.74" lengthAdjust="spacingAndGlyphs" stroke="#2a2a2a" stroke-width="0.25">CpG islands</text>
<text x="3.83" y="373.9" font-size="6.1" fill="#2a2a2a" textLength="47.03" lengthAdjust="spacingAndGlyphs" stroke="#2a2a2a" stroke-width="0.25">K450 probes</text>
<text x="0.33" y="382.4" font-size="6.2" fill="#2a2a2a" textLength="61.64" lengthAdjust="spacingAndGlyphs" stroke="#2a2a2a" stroke-width="0.25">Genes (+ strand)</text>
<text x="0.52" y="399.6" font-size="6.3" fill="#2a2a2a" textLength="59.76" lengthAdjust="spacingAndGlyphs" stroke="#2a2a2a" stroke-width="0.25">Genes (- strand)</text>
<rect x="194.50" y="360.30" width="28.80" height="4.20" fill="#36559a" stroke="#18243e" stroke-width="0.7" rx="0" />
<rect x="434.90" y="360.40" width="4.10" height="4.30" fill="#2b3550" stroke="#1a2030" stroke-width="0.6" rx="0" />
<rect x="460.10" y="360.40" width="5.80" height="4.30" fill="#35528e" stroke="#18243e" stroke-width="0.7" rx="0" />
<rect x="153.40" y="370.20" width="1.20" height="5.20" fill="#1e1e1e" stroke="none" stroke-width="0" rx="0" />
<rect x="181.40" y="370.20" width="1.20" height="5.20" fill="#1e1e1e" stroke="none" stroke-width="0" rx="0" />
<rect x="191.80" y="370.20" width="1.20" height="5.20" fill="#1e1e1e" stroke="none" stroke-width="0" rx="0" />
<rect x="195.50" y="370.20" width="1.20" height="5.20" fill="#1e1e1e" stroke="none" stroke-width="0" rx="0" />
<rect x="197.30" y="370.20" width="1.20" height="5.20" fill="#1e1e1e" stroke="none" stroke-width="0" rx="0" />
<rect x="200.00" y="370.20" width="1.20" height="5.20" fill="#1e1e1e" stroke="none" stroke-width="0" rx="0" />
<rect x="203.60" y="370.20" width="1.20" height="5.20" fill="#1e1e1e" stroke="none" stroke-width="0" rx="0" />
<rect x="212.40" y="370.20" width="1.20" height="5.20" fill="#1e1e1e" stroke="none" stroke-width="0" rx="0" />
<rect x="214.10" y="370.20" width="1.20" height="5.20" fill="#1e1e1e" stroke="none" stroke-width="0" rx="0" />
<rect x="215.80" y="370.20" width="1.20" height="5.20" fill="#1e1e1e" stroke="none" stroke-width="0" rx="0" />
<rect x="219.20" y="370.20" width="1.20" height="5.20" fill="#1e1e1e" stroke="none" stroke-width="0" rx="0" />
<rect x="220.60" y="370.20" width="1.20" height="5.20" fill="#1e1e1e" stroke="none" stroke-width="0" rx="0" />
<rect x="221.90" y="370.20" width="1.20" height="5.20" fill="#1e1e1e" stroke="none" stroke-width="0" rx="0" />
<rect x="225.30" y="370.20" width="1.20" height="5.20" fill="#1e1e1e" stroke="none" stroke-width="0" rx="0" />
<rect x="228.00" y="370.20" width="1.20" height="5.20" fill="#1e1e1e" stroke="none" stroke-width="0" rx="0" />
<rect x="232.70" y="370.20" width="1.20" height="5.20" fill="#1e1e1e" stroke="none" stroke-width="0" rx="0" />
<rect x="235.60" y="370.20" width="1.20" height="5.20" fill="#1e1e1e" stroke="none" stroke-width="0" rx="0" />
<rect x="240.70" y="370.20" width="1.20" height="5.20" fill="#1e1e1e" stroke="none" stroke-width="0" rx="0" />
<rect x="243.40" y="370.20" width="1.20" height="5.20" fill="#1e1e1e" stroke="none" stroke-width="0" rx="0" />
<rect x="250.80" y="370.20" width="1.20" height="5.20" fill="#1e1e1e" stroke="none" stroke-width="0" rx="0" />
<rect x="258.20" y="370.20" width="1.20" height="5.20" fill="#1e1e1e" stroke="none" stroke-width="0" rx="0" />
<rect x="259.90" y="370.20" width="1.20" height="5.20" fill="#1e1e1e" stroke="none" stroke-width="0" rx="0" />
<rect x="428.50" y="370.20" width="1.20" height="5.20" fill="#1e1e1e" stroke="none" stroke-width="0" rx="0" />
<rect x="434.60" y="370.20" width="1.20" height="5.20" fill="#1e1e1e" stroke="none" stroke-width="0" rx="0" />
<rect x="436.20" y="370.20" width="1.20" height="5.20" fill="#1e1e1e" stroke="none" stroke-width="0" rx="0" />
<rect x="442.70" y="370.20" width="1.20" height="5.20" fill="#1e1e1e" stroke="none" stroke-width="0" rx="0" />
<rect x="444.70" y="370.20" width="1.20" height="5.20" fill="#1e1e1e" stroke="none" stroke-width="0" rx="0" />
<rect x="446.00" y="370.20" width="1.20" height="5.20" fill="#1e1e1e" stroke="none" stroke-width="0" rx="0" />
<rect x="447.40" y="370.20" width="1.20" height="5.20" fill="#1e1e1e" stroke="none" stroke-width="0" rx="0" />
<rect x="451.40" y="370.20" width="1.20" height="5.20" fill="#1e1e1e" stroke="none" stroke-width="0" rx="0" />
<rect x="460.20" y="370.20" width="1.20" height="5.20" fill="#1e1e1e" stroke="none" stroke-width="0" rx="0" />
<rect x="464.20" y="370.20" width="1.20" height="5.20" fill="#1e1e1e" stroke="none" stroke-width="0" rx="0" />
<rect x="465.30" y="370.20" width="1.20" height="5.20" fill="#1e1e1e" stroke="none" stroke-width="0" rx="0" />
<line x1="75.8" y1="388.5" x2="505.0" y2="388.5" stroke="#111" stroke-width="0.9" />
<line x1="117.7" y1="387.5" x2="117.7" y2="389.5" stroke="#111" stroke-width="0.9" />
<line x1="246.2" y1="387.5" x2="246.2" y2="389.5" stroke="#111" stroke-width="0.9" />
<line x1="375.4" y1="387.5" x2="375.4" y2="389.5" stroke="#111" stroke-width="0.9" />
<line x1="504.6" y1="387.5" x2="504.6" y2="389.5" stroke="#111" stroke-width="0.9" />
<text x="73.91" y="386.3" font-size="4.8" fill="#222" textLength="5.08" lengthAdjust="spacingAndGlyphs" stroke="#222" stroke-width="0.25">5'</text>
<text x="103.93" y="386.3" font-size="4.5" fill="#333" textLength="29.44" lengthAdjust="spacingAndGlyphs" stroke="#333" stroke-width="0.25">87010000</text>
<text x="232.43" y="393.8" font-size="4.5" fill="#333" textLength="29.34" lengthAdjust="spacingAndGlyphs" stroke="#333" stroke-width="0.25">87020000</text>
<text x="361.23" y="386.1" font-size="4.5" fill="#333" textLength="29.84" lengthAdjust="spacingAndGlyphs" stroke="#333" stroke-width="0.25">87030000</text>
<text x="489.93" y="394.5" font-size="4.5" fill="#333" textLength="29.34" lengthAdjust="spacingAndGlyphs" stroke="#333" stroke-width="0.25">87040000</text>
<text x="508.51" y="386.9" font-size="4.8" fill="#222" textLength="5.08" lengthAdjust="spacingAndGlyphs" stroke="#222" stroke-width="0.25">3'</text>
<line x1="158" y1="398.5" x2="446" y2="398.5" stroke="#c9bd90" stroke-width="0.9" />
<rect x="139.90" y="396.60" width="17.90" height="4.70" fill="#7a7234" stroke="#23200c" stroke-width="0.8" rx="0" />
<rect x="190.10" y="396.60" width="1.50" height="4.70" fill="#7a7234" stroke="#23200c" stroke-width="0.8" rx="0" />
<rect x="200.70" y="396.60" width="1.90" height="4.70" fill="#7a7234" stroke="#23200c" stroke-width="0.8" rx="0" />
<rect x="204.50" y="396.60" width="2.30" height="4.70" fill="#7a7234" stroke="#23200c" stroke-width="0.8" rx="0" />
<rect x="213.40" y="396.60" width="18.00" height="4.70" fill="#7a7234" stroke="#23200c" stroke-width="0.8" rx="0" />
<rect x="357.60" y="396.60" width="2.10" height="4.70" fill="#7a7234" stroke="#23200c" stroke-width="0.8" rx="0" />
<rect x="434.30" y="396.60" width="4.60" height="4.70" fill="#7a7234" stroke="#23200c" stroke-width="0.8" rx="0" />
<rect x="442.40" y="396.60" width="4.20" height="4.70" fill="#7a7234" stroke="#23200c" stroke-width="0.8" rx="0" />
<line x1="447.6" y1="405.4" x2="447.6" y2="413.1" stroke="#111" stroke-width="1.3" />
<line x1="423" y1="409.4" x2="447.6" y2="409.4" stroke="#111" stroke-width="1.5" />
<polyline points="429.8,405.2 422.3,409.4 429.8,413.6" fill="none" stroke="#111" stroke-width="1.4"/>
<text x="450.02" y="411.9" font-size="6.3" fill="#2a2a2a" textLength="15.46" lengthAdjust="spacingAndGlyphs" stroke="#2a2a2a" stroke-width="0.25">TSS</text>
<text x="9.22" y="429.5" font-size="6.3" fill="#2a2a2a" textLength="27.36" lengthAdjust="spacingAndGlyphs" stroke="#2a2a2a" stroke-width="0.25">Legend</text>
<rect x="118.40" y="426.10" width="21.10" height="3.50" fill="#b0303c" stroke="#2a2a2a" stroke-width="0.8" rx="0" />
<text x="128.95" y="437.7" font-size="7.4" text-anchor="middle" font-weight="normal" fill="#111" >CD14</text>
<rect x="180.80" y="426.10" width="21.10" height="3.50" fill="#5070ae" stroke="#2a2a2a" stroke-width="0.8" rx="0" />
<text x="191.35" y="437.7" font-size="7.4" text-anchor="middle" font-weight="normal" fill="#111" >CD16</text>
<rect x="242.80" y="426.10" width="21.00" height="3.50" fill="#6cac56" stroke="#2a2a2a" stroke-width="0.8" rx="0" />
<text x="253.3" y="437.7" font-size="7.4" text-anchor="middle" font-weight="normal" fill="#111" >CD19</text>
<rect x="305.20" y="426.10" width="21.00" height="3.50" fill="#6a4a98" stroke="#2a2a2a" stroke-width="0.8" rx="0" />
<text x="315.7" y="437.7" font-size="7.4" text-anchor="middle" font-weight="normal" fill="#111" >CD4</text>
<rect x="367.10" y="426.10" width="21.00" height="3.50" fill="#d8874a" stroke="#2a2a2a" stroke-width="0.8" rx="0" />
<text x="377.6" y="437.7" font-size="7.4" text-anchor="middle" font-weight="normal" fill="#111" >CD8</text>
</svg>
</body></html>
